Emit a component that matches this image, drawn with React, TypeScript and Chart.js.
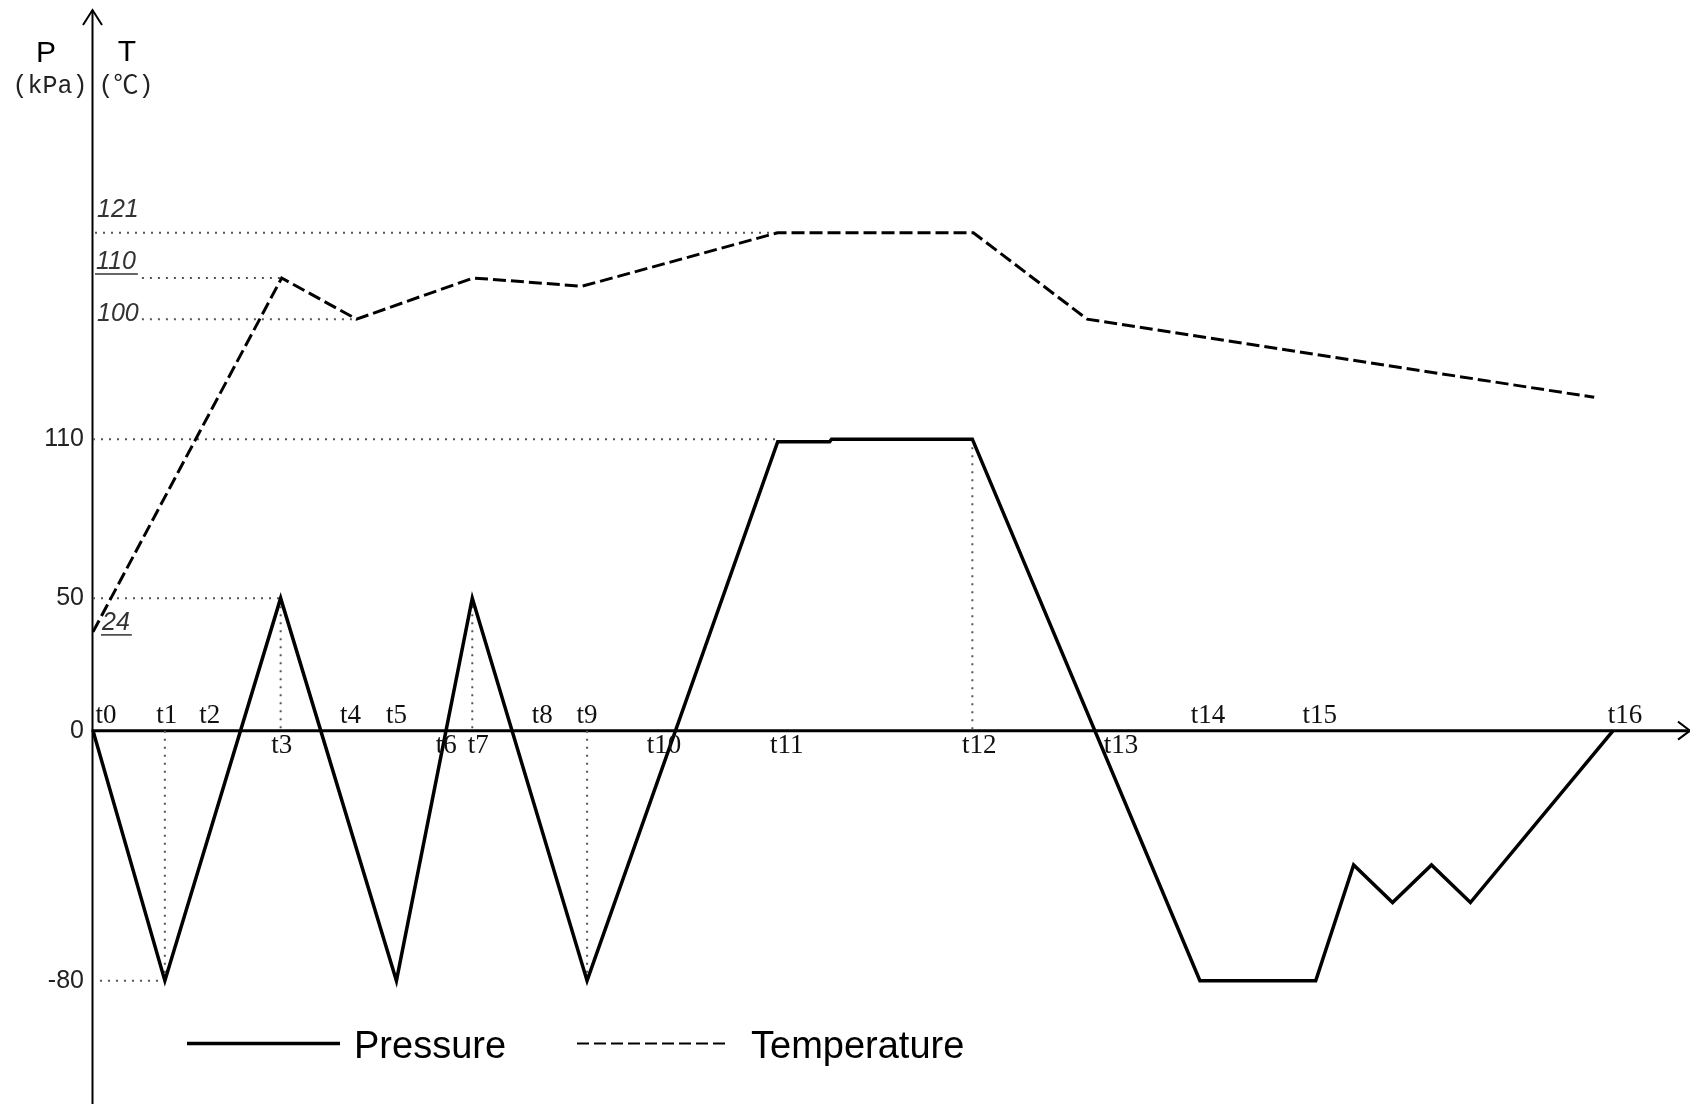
import React, { useEffect, useRef } from 'react';
import { Chart, registerables, LinearScale } from 'chart.js';

// ---------------- data ----------------
// time axis is in arbitrary units (0 = origin)
const PRESSURE_TIME = [0, 7.2, 18.8, 30.4, 38.0, 49.5, 68.6, 73.8, 74.0, 88.1, 110.9, 122.5, 126.3, 130.2, 134.1, 138.0, 152.3];
const PRESSURE_KPA = [0, -80, 50, -80, 50, -80, 109, 109, 110, 110, -80, -80, -43, -55, -43, -55, 0];

const TEMP_TIME = [0, 18.9, 26.4, 38.1, 49.0, 68.6, 88.2, 99.6, 150.4];
const TEMP_C = [24, 110, 100, 110, 108, 121, 121, 100, 81];

const TIME_LABELS = ['t0', 't1', 't2', 't3', 't4', 't5', 't6', 't7', 't8', 't9', 't10', 't11', 't12', 't13', 't14', 't15', 't16'];
const TIME_LABEL_AT = [1.3, 7.4, 11.7, 18.9, 25.8, 30.4, 35.4, 38.6, 45.0, 49.5, 57.2, 69.5, 88.8, 103.0, 111.7, 122.9, 153.5];
const TIME_LABEL_BELOW = [false, false, false, true, false, false, true, true, false, false, true, true, true, true, false, false, false];

const PRESSURE_TICKS = [110, 50, 0, -80];
const TEMP_TICKS = [121, 110, 100, 24];

// dotted guide lines: [time1, value1, time2, value2]
const PRESSURE_GUIDES = [
  [0, 110, 68.6, 110],
  [0, 50, 18.8, 50],
  [0.7, -80, 7.2, -80],
  [7.2, 0, 7.2, -80],
  [18.8, 50, 18.8, 0],
  [38.0, 50, 38.0, 0],
  [49.5, 0, 49.5, -80],
  [88.1, 110, 88.1, 0],
];
const TEMP_GUIDES = [
  [0.2, 121, 68.6, 121],
  [4.9, 110, 18.9, 110],
  [4.9, 100, 26.4, 100],
];

const SERIES_NAMES = ['Pressure', 'Temperature'];
const P_TITLE = ['P', '(kPa)'];
const T_TITLE = ['T', '(℃)'];

// axis ranges
const X_MIN = 0, X_MAX = 160;
const T_MIN = -90, T_MAX = 174.4;
const P_MIN = -118.5, P_MAX = 270.8;
const ZERO_FRACTION = (0 - T_MIN) / (T_MAX - T_MIN);

// pressure axis of the sketch is drawn with a different scale below and above zero
class SplitLinearScale extends LinearScale {
  static id = 'splitLinear';
  getPixelForValue(value: number) {
    if (value === null || value === undefined) return NaN;
    const zf = ZERO_FRACTION;
    const dec = value >= 0 ? zf + (1 - zf) * (value / this.max) : zf * (1 - value / this.min);
    return this.getPixelForDecimal(dec);
  }
  getValueForPixel(pixel: number) {
    const zf = ZERO_FRACTION;
    const dec = this.getDecimalForPixel(pixel);
    return dec >= zf ? ((dec - zf) / (1 - zf)) * this.max : this.min * (1 - dec / zf);
  }
}

Chart.register(...registerables, SplitLinearScale as any);

const TEMP_LABEL_STYLE: Record<number, { dy: number; dx: number; underline: boolean }> = {
  121: { dy: -16, dx: 4, underline: false },
  110: { dy: -9, dx: 3, underline: true },
  100: { dy: 2, dx: 4, underline: false },
  24: { dy: -2, dx: 9, underline: true },
};

const decorPlugin = {
  id: 'decor',
  beforeDatasetsDraw(chart: any) {
    const { ctx, chartArea, scales } = chart;
    const x0 = chartArea.left - 0.5;
    const y0 = scales.yP.getPixelForValue(0);
    ctx.save();
    ctx.strokeStyle = '#000';
    ctx.lineCap = 'butt';
    ctx.lineJoin = 'miter';
    // vertical axis with arrow
    ctx.lineWidth = 2;
    ctx.beginPath();
    ctx.moveTo(x0, chartArea.top - 3);
    ctx.lineTo(x0, chart.height);
    ctx.stroke();
    ctx.beginPath();
    ctx.moveTo(x0 - 9.5, chartArea.top + 12);
    ctx.lineTo(x0, chartArea.top - 3);
    ctx.lineTo(x0 + 9.5, chartArea.top + 12);
    ctx.stroke();
    // horizontal axis with arrow
    ctx.lineWidth = 3;
    ctx.beginPath();
    ctx.moveTo(x0 - 1, y0);
    ctx.lineTo(chart.width, y0);
    ctx.stroke();
    ctx.lineWidth = 2;
    ctx.beginPath();
    ctx.moveTo(chart.width - 12, y0 - 9);
    ctx.lineTo(chart.width, y0);
    ctx.lineTo(chart.width - 12, y0 + 9);
    ctx.stroke();
    ctx.restore();
  },
  afterDatasetsDraw(chart: any) {
    const { ctx, chartArea, scales } = chart;
    const xs = scales.x;
    const yP = scales.yP;
    const yT = scales.yT;
    const y0 = yP.getPixelForValue(0);
    ctx.save();

    // time labels
    ctx.font = '27px "Liberation Serif", serif';
    ctx.fillStyle = '#111';
    ctx.textAlign = 'center';
    ctx.textBaseline = 'alphabetic';
    TIME_LABELS.forEach((lab, i) => {
      const px = xs.getPixelForValue(TIME_LABEL_AT[i]);
      ctx.fillText(lab, px, TIME_LABEL_BELOW[i] ? y0 + 22 : y0 - 8);
    });

    // temperature labels
    ctx.font = 'italic 25px "Liberation Sans", sans-serif';
    ctx.fillStyle = '#333';
    ctx.textAlign = 'left';
    ctx.strokeStyle = '#333';
    ctx.lineWidth = 1.5;
    TEMP_TICKS.forEach((v) => {
      const st = TEMP_LABEL_STYLE[v] || { dy: 0, dx: 4, underline: false };
      const py = yT.getPixelForValue(v) + st.dy;
      const lx = chartArea.left + st.dx;
      const text = String(v);
      ctx.fillText(text, lx, py);
      if (st.underline) {
        const w = ctx.measureText(text).width;
        ctx.beginPath();
        ctx.moveTo(lx - 1, py + 5);
        ctx.lineTo(lx + w + 2, py + 5);
        ctx.stroke();
      }
    });

    // axis titles
    ctx.fillStyle = '#000';
    ctx.textAlign = 'center';
    ctx.font = '30px "Liberation Sans", sans-serif';
    ctx.fillText(P_TITLE[0], 46, 62);
    ctx.fillText(T_TITLE[0], 127, 61);
    ctx.fillStyle = '#222';
    ctx.font = '25px "Liberation Mono", "Noto Sans CJK SC", monospace';
    ctx.fillText(P_TITLE[1], 50, 93);
    ctx.fillText(T_TITLE[1], 126, 93);

    // legend
    const ds = chart.data.datasets;
    const items = [
      { x1: 187, x2: 340, tx: 354 },
      { x1: 577, x2: 725, tx: 751 },
    ];
    const ly = 1043.5;
    items.forEach((it, i) => {
      ctx.strokeStyle = '#000';
      ctx.lineWidth = i === 0 ? ds[0].borderWidth : 2;
      ctx.setLineDash(i === 0 ? [] : [12, 5]);
      ctx.beginPath();
      ctx.moveTo(it.x1, ly);
      ctx.lineTo(it.x2, ly);
      ctx.stroke();
      ctx.setLineDash([]);
      ctx.fillStyle = '#000';
      ctx.textAlign = 'left';
      ctx.font = '38px "Liberation Sans", sans-serif';
      ctx.fillText(SERIES_NAMES[i], it.tx, 1058);
    });
    ctx.restore();
  },
};

function segData(seg: number[]) {
  return [{ x: seg[0], y: seg[1] }, { x: seg[2], y: seg[3] }];
}

export default function App() {
  const ref = useRef<HTMLCanvasElement>(null);
  useEffect(() => {
    if (!ref.current) return;
    const guideStyle = {
      borderColor: '#555',
      borderWidth: 2,
      borderDash: [2, 6],
      pointRadius: 0,
      fill: false,
      tension: 0,
    };
    const datasets: any[] = [
      {
        label: SERIES_NAMES[0],
        data: PRESSURE_TIME.map((t, i) => ({ x: t, y: PRESSURE_KPA[i] })),
        yAxisID: 'yP',
        borderColor: '#000',
        borderWidth: 3.5,
        pointRadius: 0,
        fill: false,
        tension: 0,
      },
      {
        label: SERIES_NAMES[1],
        data: TEMP_TIME.map((t, i) => ({ x: t, y: TEMP_C[i] })),
        yAxisID: 'yT',
        borderColor: '#000',
        borderWidth: 3,
        borderDash: [13, 5],
        pointRadius: 0,
        fill: false,
        tension: 0,
      },
      ...PRESSURE_GUIDES.map((g, i) => ({ label: 'pg' + i, data: segData(g), yAxisID: 'yP', ...guideStyle })),
      ...TEMP_GUIDES.map((g, i) => ({ label: 'tg' + i, data: segData(g), yAxisID: 'yT', ...guideStyle })),
    ];
    const chart = new Chart(ref.current, {
      type: 'line',
      data: { datasets },
      options: {
        responsive: false,
        maintainAspectRatio: false,
        devicePixelRatio: 1,
        animation: false,
        events: [],
        layout: { padding: { left: 8, top: 13, right: 0, bottom: 3 } },
        plugins: { legend: { display: false }, tooltip: { enabled: false }, title: { display: false } },
        scales: {
          x: { type: 'linear', min: X_MIN, max: X_MAX, display: false, bounds: 'data' },
          yT: { type: 'linear', min: T_MIN, max: T_MAX, display: false, bounds: 'data' },
          yP: {
            type: 'splitLinear',
            position: 'left',
            min: P_MIN,
            max: P_MAX,
            bounds: 'data',
            grid: { display: false, drawTicks: false },
            border: { display: false },
            ticks: {
              autoSkip: false,
              padding: 9,
              color: '#222',
              font: { family: '"Liberation Sans", sans-serif', size: 25 },
            },
            afterBuildTicks: (s: any) => {
              s.ticks = PRESSURE_TICKS.map((v) => ({ value: v }));
            },
            afterFit: (s: any) => {
              s.width = 85;
              s.paddingTop = 0;
              s.paddingBottom = 0;
            },
          } as any,
        },
      } as any,
      plugins: [decorPlugin],
    });
    return () => chart.destroy();
  }, []);
  return (
    <div style={{ position: 'absolute', left: 0, top: 0, width: 1690, height: 1104, background: '#fff' }}>
      <canvas ref={ref} width={1690} height={1104} style={{ display: 'block', width: 1690, height: 1104 }} />
    </div>
  );
}
